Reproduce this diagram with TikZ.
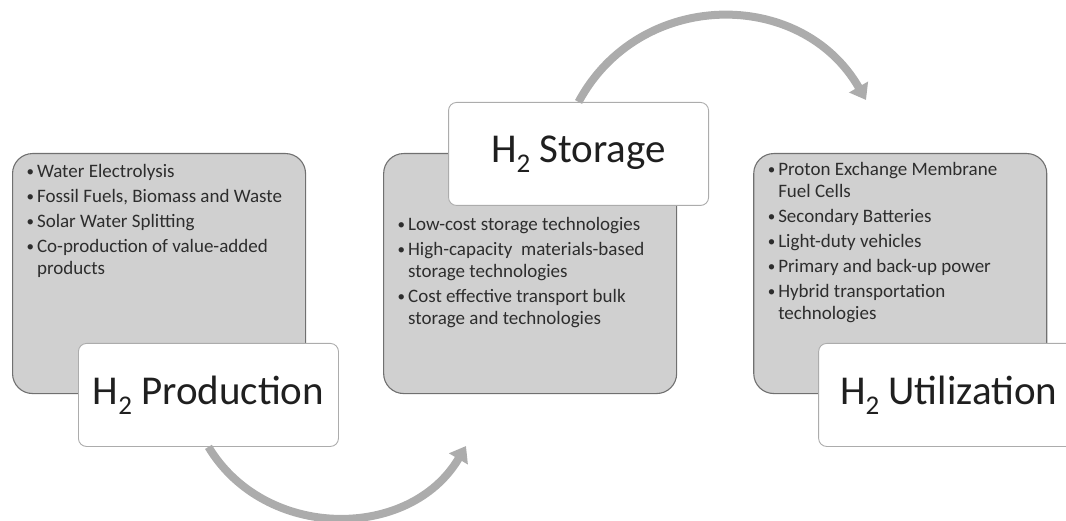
\documentclass[tikz,border=0pt]{standalone}
\usepackage{fontspec}
\setmainfont{Carlito}
\usetikzlibrary{arrows.meta,positioning}

\definecolor{boxgray}{RGB}{208,208,208}
\definecolor{edgegray}{RGB}{112,112,112}
\definecolor{arrowgray}{RGB}{172,172,172}
\definecolor{textgray}{RGB}{45,45,45}

\newcommand{\hydro}{H\raisebox{-0.24em}{\fontsize{27}{27}\selectfont 2}}
\newcommand{\dotmark}{\makebox[6pt][l]{\raisebox{1.5pt}{\fontsize{15}{15}\selectfont\textbullet}}}
\newcommand{\itemlist}[2][4pt]{%
  \parbox[c][226pt][t]{265pt}{\vspace*{#1}\raggedright
    \fontsize{19}{22}\selectfont\color{textgray}%
    \begin{list}{\dotmark}{\setlength{\leftmargin}{10.5pt}%
      \setlength{\labelwidth}{6pt}\setlength{\labelsep}{4.5pt}\setlength{\itemsep}{3pt}%
      \setlength{\parsep}{0pt}\setlength{\topsep}{0pt}\setlength{\partopsep}{0pt}}#2\end{list}}}

\begin{document}
\begin{tikzpicture}[x=1pt,y=-1pt,
    listbox/.style={draw=edgegray,fill=boxgray,line width=1.1pt,rounded corners=20pt,
      inner xsep=14pt,inner ysep=7pt,anchor=north west},
    titlebox/.style={draw=arrowgray,fill=white,line width=0.9pt,rounded corners=8pt,
      minimum width=260pt,minimum height=103pt,inner sep=0pt,anchor=north west,
      font=\fontsize{41}{46}\selectfont,text=black!88},
    flow/.style={draw=arrowgray,line width=8pt,-{Triangle[length=15pt,width=21pt]}}]
  \useasboundingbox (0,0) rectangle (1066,521);

  \node[listbox] (prodlist) at (12,153) {\itemlist{%
    \item Water Electrolysis
    \item Fossil Fuels, Biomass and Waste
    \item Solar Water Splitting
    \item Co-production of value-added\\ products}};
  \node[titlebox] (prod) at ([shift={(66,190)}]prodlist.north west) {\hydro{} Production};

  \node[listbox,right=77pt of prodlist.north east,anchor=north west] (storlist) {\itemlist[57pt]{%
    \item Low-cost storage technologies
    \item High-capacity~ materials-based\\ storage technologies
    \item Cost effective transport bulk\\ storage and technologies}};
  \node[titlebox] (stor) at ([shift={(65,-51)}]storlist.north west) {\hydro{} Storage};

  \node[listbox,right=76pt of storlist.north east,anchor=north west] (utillist) {\itemlist[2pt]{%
    \item Proton Exchange Membrane\\ Fuel Cells
    \item Secondary Batteries
    \item Light-duty vehicles
    \item Primary and back-up power
    \item Hybrid transportation\\ technologies}};
  \node[titlebox] (util) at ([shift={(65,190)}]utillist.north west) {\hydro{} Utilization};

  % free ends of the two arrows
  \coordinate (prodend) at (466,446);
  \coordinate (storend) at (866,100);

  \path[flow] (prod.south) .. controls (265,541) and (410,541) .. (prodend);
  \path[flow] (stor.north) .. controls (639,-11) and (801,-13) .. (storend);
\end{tikzpicture}
\end{document}
